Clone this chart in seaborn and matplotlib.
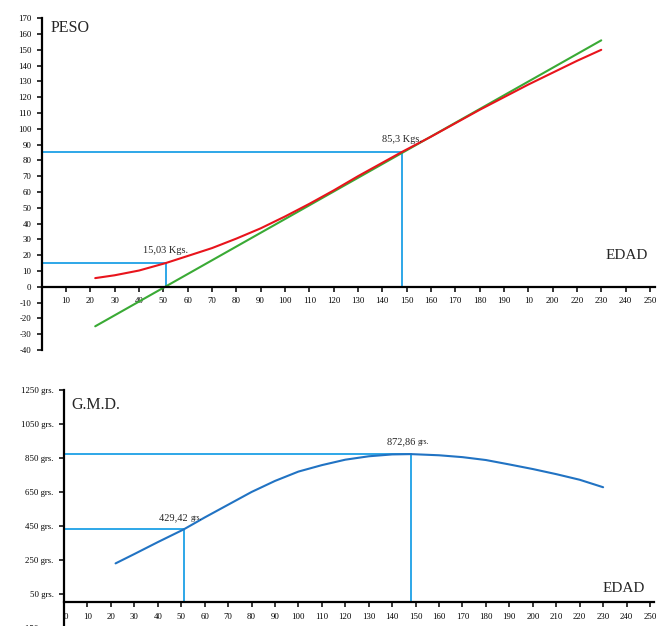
import pandas as pd
import matplotlib
matplotlib.use('Agg')
import matplotlib.pyplot as plt
import seaborn as sns

# Peso (kg) vs edad (dias)
edad_real = [22, 30, 40, 51, 60, 70, 80, 90, 100, 110, 120, 130, 140, 148, 160, 170, 180, 190, 200, 210, 220, 230]
peso_real = [5.5, 7.3, 10.3, 15.03, 19.5, 24.5, 30.5, 37, 44.5, 52.5, 61, 70, 78.5, 85.3, 95, 103.5, 112, 120, 128, 135.5, 143, 150]
edad_recta = [22, 230]
peso_recta = [-25, 156]

# Ganancia media diaria (grs) vs edad
edad_gmd = [22, 30, 40, 51, 60, 70, 80, 90, 100, 110, 120, 130, 140, 148, 160, 170, 180, 190, 200, 210, 220, 230]
gmd = [230, 285, 355, 429.42, 500, 575, 650, 715, 770, 808, 840, 860, 871, 872.86, 866, 855, 838, 812, 785, 755, 722, 678]

# puntos marcados
peso_marcas = [(51, 15.03, '15,03 Kgs.'), (148, 85.3, '85,3 Kgs.')]
gmd_marcas = [(51, 429.42, '429,42'), (148, 872.86, '872,86')]

x_ticks_peso = list(range(10, 260, 10))
x_labels_peso = [str(v) for v in range(10, 200, 10)] + ['10', '200', '220', '230', '240', '250']
y_ticks_peso = list(range(-40, 180, 10))
x_ticks_gmd = list(range(0, 260, 10))
y_ticks_gmd = [-150, 50, 250, 450, 650, 850, 1050, 1250]

sns.set_style('white')
plt.rcParams['font.family'] = ['Liberation Serif', 'DejaVu Serif']
plt.rcParams['axes.unicode_minus'] = False

rojo = '#e8141c'
verde = '#3aaa35'
celeste = '#1ea0e6'
azul = '#2173c3'

fig = plt.figure(figsize=(6.64, 6.26), dpi=100)
ax1 = fig.add_axes([0.0628, 0.4409, 0.9233, 0.530])
ax2 = fig.add_axes([0.0964, -0.0086, 0.8878, 0.3856])


def estilo(ax):
    for s in ['top', 'right']:
        ax.spines[s].set_visible(False)
    ax.spines['bottom'].set_position(('data', 0))
    ax.spines['left'].set_linewidth(1.6)
    ax.spines['bottom'].set_linewidth(1.6)
    ax.spines['left'].set_color('black')
    ax.spines['bottom'].set_color('black')
    ax.tick_params(axis='both', direction='out', length=3.5, width=1.1, labelsize=6.3,
                   colors='black', pad=4, left=True, bottom=True)
    ax.set_xlabel('')
    ax.set_ylabel('')


# ---- PESO ----
df_real = pd.DataFrame({'edad': edad_real, 'peso': peso_real})
df_recta = pd.DataFrame({'edad': edad_recta, 'peso': peso_recta})
for x, y, txt in peso_marcas:
    ax1.plot([0, x], [y, y], color=celeste, lw=1.3, zorder=1)
    ax1.plot([x, x], [0, y], color=celeste, lw=1.3, zorder=1)
sns.lineplot(data=df_recta, x='edad', y='peso', ax=ax1, color=verde, lw=1.5)
sns.lineplot(data=df_real, x='edad', y='peso', ax=ax1, color=rojo, lw=1.5)
for x, y, txt in peso_marcas:
    ax1.text(x, y + 5, txt, fontsize=7.5, ha='center', va='bottom')
ax1.set_xlim(0, 252)
ax1.set_ylim(-40, 170)
ax1.set_xticks(x_ticks_peso)
ax1.set_xticklabels(x_labels_peso)
ax1.set_yticks(y_ticks_peso)
estilo(ax1)
ax1.text(3.5, 164, 'PESO', fontsize=11.5, ha='left', va='center')
ax1.text(249, 20, 'EDAD', fontsize=11, ha='right', va='center')

# ---- G.M.D. ----
df_gmd = pd.DataFrame({'edad': edad_gmd, 'gmd': gmd})
for x, y, txt in gmd_marcas:
    ax2.plot([0, x], [y, y], color=celeste, lw=1.3, zorder=1)
    ax2.plot([x, x], [0, y], color=celeste, lw=1.3, zorder=1)
sns.lineplot(data=df_gmd, x='edad', y='gmd', ax=ax2, color=azul, lw=1.5)
for x, y, txt in gmd_marcas:
    ax2.text(x + 3, y + 45, txt + ' ', fontsize=7.5, ha='right', va='bottom')
    ax2.text(x + 3, y + 45, 'grs.', fontsize=5.5, ha='left', va='bottom')
ax2.set_xlim(0, 251.5)
ax2.set_ylim(-170, 1250)
ax2.set_xticks(x_ticks_gmd)
ax2.set_yticks(y_ticks_gmd)
ax2.set_yticklabels([f'{v} grs.' for v in y_ticks_gmd])
estilo(ax2)
ax2.get_xticklabels()[0].set_horizontalalignment('left')
ax2.text(3, 1160, 'G.M.D.', fontsize=11.5, ha='left', va='center')
ax2.text(248, 80, 'EDAD', fontsize=11, ha='right', va='center')

fig.savefig('out.png', dpi=100)
